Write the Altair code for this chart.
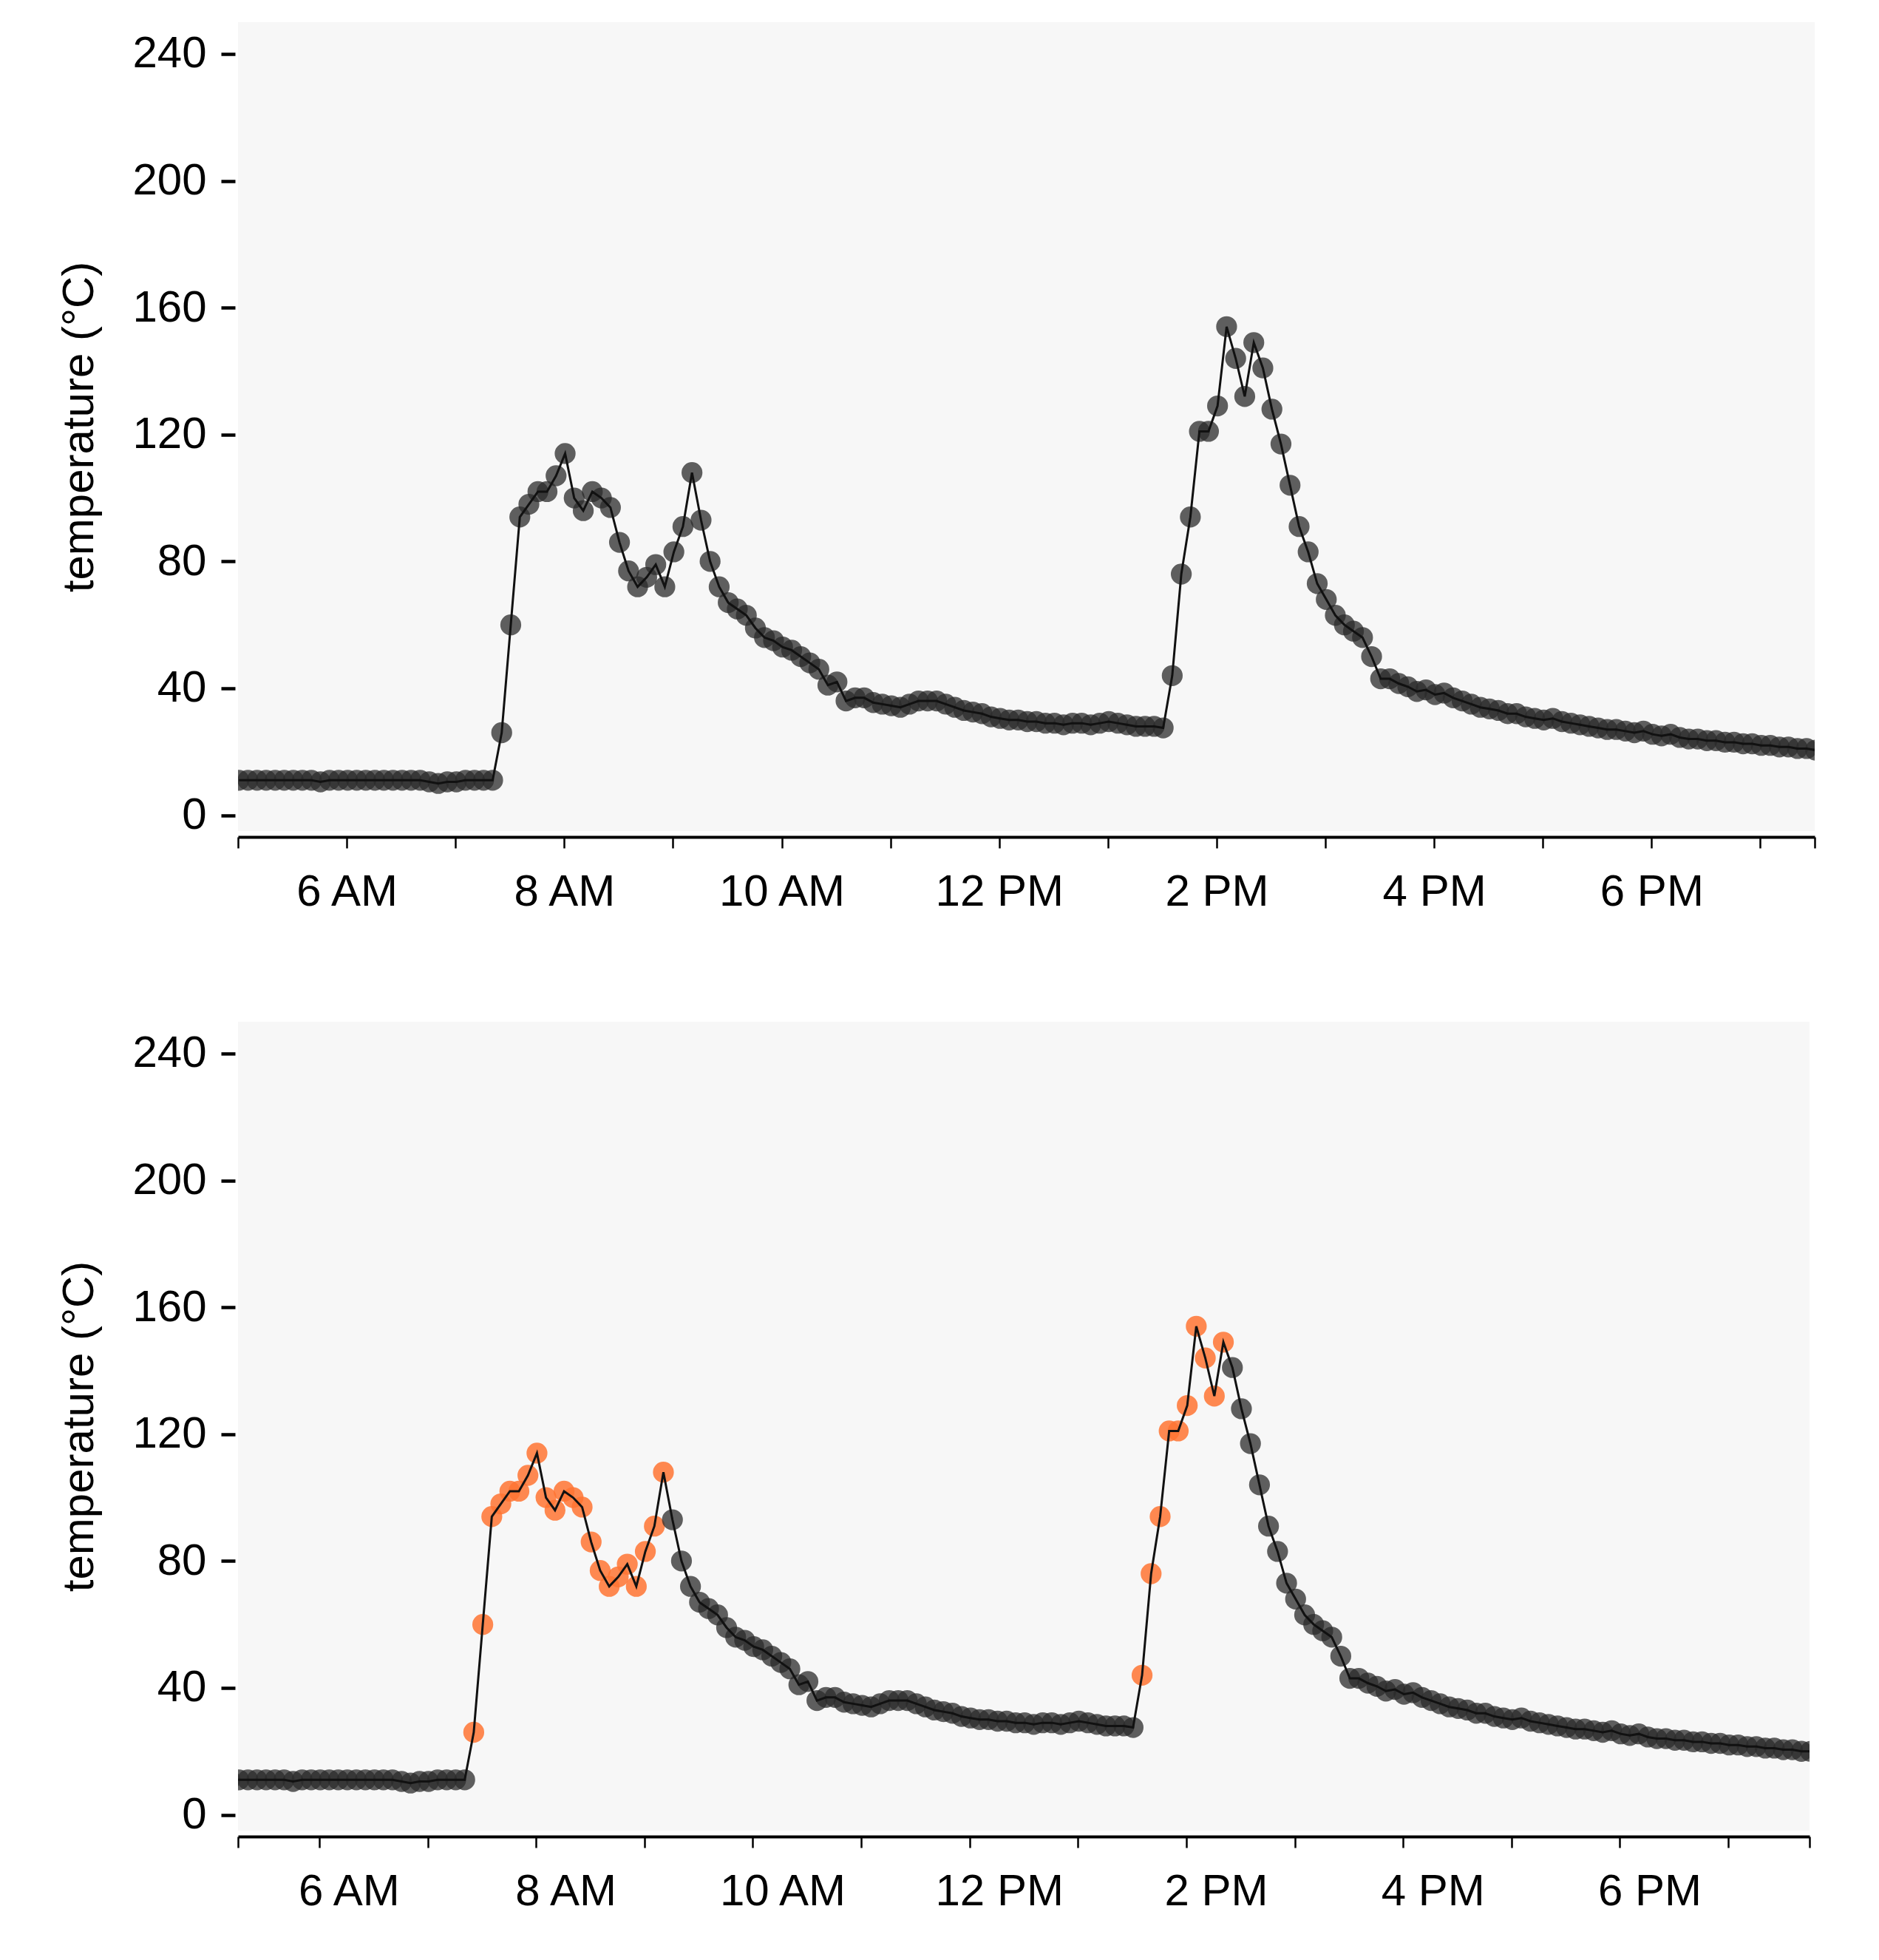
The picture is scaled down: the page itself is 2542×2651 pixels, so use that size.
import altair as alt
import pandas as pd

# ---------------- data ----------------
# temperature samples, one every 5 minutes starting 5:00:30 AM
TEMPS = [
    11, 11, 11, 11, 11, 11, 11, 11, 11, 10.5,
    11, 11, 11, 11, 11, 11, 11, 11, 11, 11,
    11, 10.5, 10, 10.5, 10.5, 11, 11, 11, 11,
    26, 60, 94, 98, 102, 102, 107, 114,
    100, 96, 102, 100, 97, 86, 77, 72,
    75, 79, 72, 83, 91, 108, 93, 80,
    72, 67, 65, 63, 59, 56, 55, 53,
    52, 50, 48, 46, 41, 42, 36, 37,
    37, 35.5, 35, 34.5,
    34, 35, 36, 36, 36, 35, 34, 33, 32.5, 32,
    31, 30.5, 30, 30, 29.5, 29.5, 29, 29, 28.5, 29,
    29, 28.5, 29, 29.5, 29, 28.5, 28, 28, 28,
    27.5, 44, 76, 94, 121, 121, 129, 154, 144, 132,
    149, 141, 128, 117, 104, 91, 83, 73, 68, 63,
    60, 58, 56, 50, 43, 43,
    41.5, 40.5, 39, 39.5, 38, 38.5, 37, 36, 35, 34,
    33.5, 33, 32, 32, 31, 30.5, 30, 30.5, 29.5, 29,
    28.5, 28, 27.5, 27, 27, 26.5, 26, 26.5, 25.5, 25,
    25.5, 24.5, 24, 24, 23.5, 23.5, 23, 23, 22.5, 22.5,
    22, 22, 21.5, 21.5, 21, 21, 20.5, 20.5, 20, 20,
]
FIRST_SAMPLE = (5, 0, 30)     # h, m, s
STEP_MINUTES = 5

# highlighted (orange) periods in the lower panel, as (start, end) clock times
HIGHLIGHTS = [((7, 25), (9, 11)), ((13, 35), (14, 21))]

Y_TICKS = [0, 40, 80, 120, 160, 200, 240]
X_LABEL_HOURS = [6, 8, 10, 12, 14, 16, 18]
X_LABELS = ["6 AM", "8 AM", "10 AM", "12 PM", "2 PM", "4 PM", "6 PM"]

TOP_DOMAIN = ((5, 0), (19, 30))
BOTTOM_DOMAIN = ((5, 15), (19, 45))

BASE_MS = 1704067200000  # 2024-01-01T00:00:00Z


def ms(h, m=0, s=0):
    return BASE_MS + int(((h * 60 + m) * 60 + s) * 1000)


start = ms(*FIRST_SAMPLE)
times = [start + i * STEP_MINUTES * 60000 for i in range(len(TEMPS))]


def is_hl(t):
    for (a, b) in HIGHLIGHTS:
        if ms(*a) <= t <= ms(*b):
            return 1
    return 0


df = pd.DataFrame({"time": times, "temp": TEMPS, "hl": [is_hl(t) for t in times]})

# ---------------- styling ----------------
FONT = "Liberation Sans"
DARK = "#2b2b2b"
ORANGE = "#ff7433"

label_expr = "utcminutes(datum.value) != 0 ? '' : "
for h, lab in zip(X_LABEL_HOURS, X_LABELS):
    label_expr += f"utchours(datum.value) == {h} ? '{lab}' : "
label_expr += "''"


def x_enc(domain, label_offset):
    (h0, m0), (h1, m1) = domain
    vals = [ms(h0, m0)] + [ms(h) for h in range(h0 + 1, h1 + 1)] + [ms(h1, m1)]
    return alt.X(
        "time:T",
        scale=alt.Scale(type="utc", domain=[ms(h0, m0), ms(h1, m1)], nice=False),
        axis=alt.Axis(
            values=vals,
            labelExpr=label_expr,
            title=None,
            grid=False,
            domain=True,
            domainColor="black",
            domainWidth=4,
            ticks=True,
            tickColor="black",
            tickWidth=2.5,
            tickSize=15,
            offset=8,
            labelFont=FONT,
            labelFontSize=60,
            labelColor="black",
            labelPadding=30,
            labelOffset=label_offset,
            labelFlush=False,
            labelOverlap=False,
        ),
    )


y_enc = alt.Y(
    "temp:Q",
    scale=alt.Scale(domain=[-5, 250], nice=False, zero=False),
    axis=alt.Axis(
        values=Y_TICKS,
        title="temperature (°C)",
        titleFont=FONT,
        titleFontSize=60,
        titleFontWeight="normal",
        titleColor="black",
        titlePadding=40,
        grid=False,
        domain=False,
        ticks=True,
        tickColor="black",
        tickWidth=4.5,
        tickSize=19,
        offset=4,
        labelFont=FONT,
        labelFontSize=60,
        labelColor="black",
        labelPadding=20,
    ),
)


def panel(domain, label_offset, width, highlight):
    base = alt.Chart(df).encode(x=x_enc(domain, label_offset), y=y_enc)
    if highlight:
        color = alt.condition(alt.datum.hl == 1, alt.value(ORANGE), alt.value(DARK))
        opacity = alt.condition(alt.datum.hl == 1, alt.value(0.85), alt.value(0.75))
    else:
        color = alt.value(DARK)
        opacity = alt.value(0.75)
    pts = base.mark_circle(size=800, clip=True).encode(color=color, opacity=opacity)
    line = base.mark_line(color="#111111", strokeWidth=3, clip=True)
    return alt.layer(pts, line).properties(width=width, height=1094)


top = panel(TOP_DOMAIN, 0, 2133, False)
bottom = panel(BOTTOM_DOMAIN, 40, 2126, True)

chart = (
    alt.vconcat(top, bottom, spacing=146)
    .properties(padding={"left": 69, "top": 22, "right": 10, "bottom": 10}, background="white")
    .configure_view(fill="#f7f7f7", stroke=None)
)

chart.save("out.html", embed_options={"renderer": "svg", "actions": False})
